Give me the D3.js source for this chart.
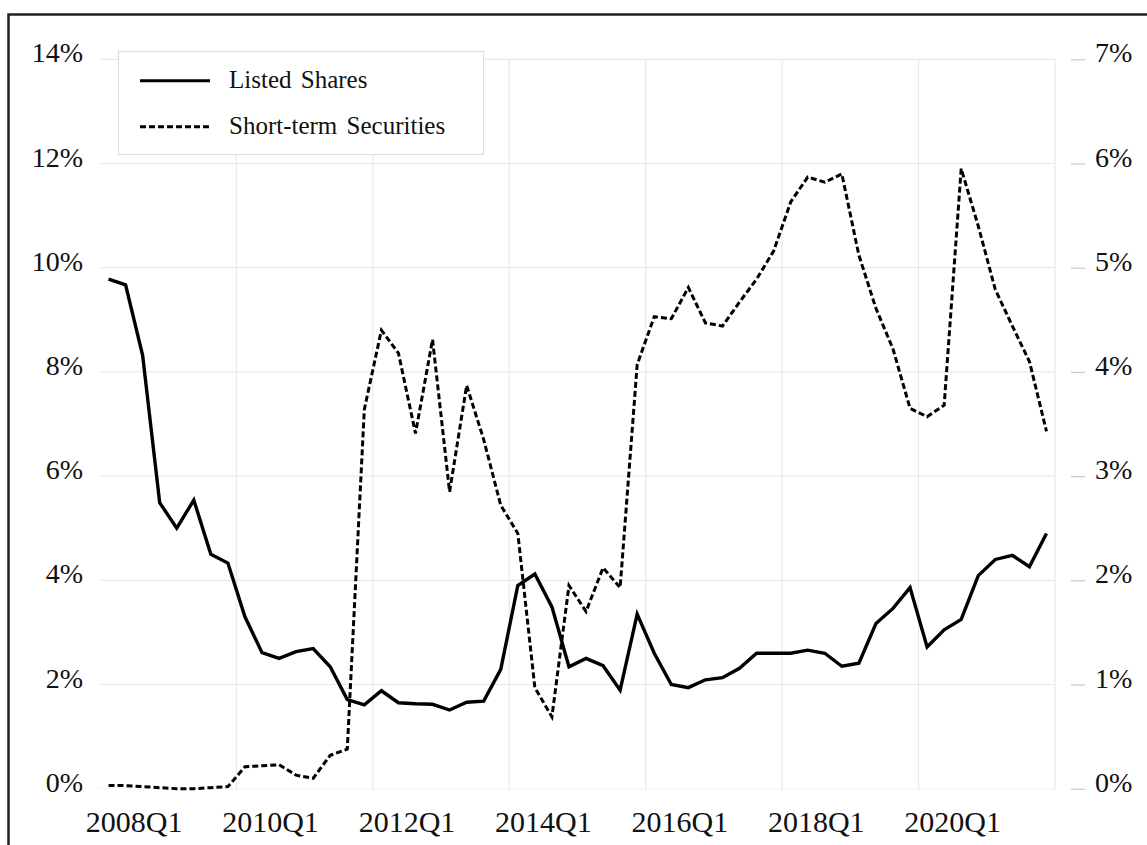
<!DOCTYPE html>
<html>
<head>
<meta charset="utf-8">
<script src="https://cdn.jsdelivr.net/npm/d3@7"></script>
<style>
  html, body { margin: 0; padding: 0; background: #fff; }
  svg { display: block; }
  text { font-family: "Liberation Serif", "Times New Roman", serif; fill: #111; }
</style>
</head>
<body>
<svg width="1147" height="845"></svg>
<script>
const quarters = [
    "2008Q1","2008Q2","2008Q3","2008Q4","2009Q1","2009Q2","2009Q3","2009Q4",
    "2010Q1","2010Q2","2010Q3","2010Q4","2011Q1","2011Q2","2011Q3","2011Q4",
    "2012Q1","2012Q2","2012Q3","2012Q4","2013Q1","2013Q2","2013Q3","2013Q4",
    "2014Q1","2014Q2","2014Q3","2014Q4","2015Q1","2015Q2","2015Q3","2015Q4",
    "2016Q1","2016Q2","2016Q3","2016Q4","2017Q1","2017Q2","2017Q3","2017Q4",
    "2018Q1","2018Q2","2018Q3","2018Q4","2019Q1","2019Q2","2019Q3","2019Q4",
    "2020Q1","2020Q2","2020Q3","2020Q4","2021Q1","2021Q2","2021Q3","2021Q4"
];

// left axis (%)
const listedShares = [9.78, 9.67, 8.32, 5.49, 5.00, 5.54, 4.50, 4.33, 3.30, 2.61, 2.50, 2.63, 2.69, 2.34,
    1.71, 1.61, 1.88, 1.65, 1.63, 1.62, 1.51, 1.66, 1.68, 2.29, 3.90, 4.12, 3.49, 2.34, 2.50, 2.36,
    1.89, 3.35, 2.60, 2.00, 1.94, 2.09, 2.13, 2.31, 2.60, 2.60, 2.60, 2.66, 2.60, 2.35, 2.41, 3.17,
    3.46, 3.86, 2.72, 3.05, 3.25, 4.09, 4.40, 4.48, 4.26, 4.90];

// right axis (%)
const shortTermSecurities = [0.03, 0.03, 0.02, 0.01, 0.00, 0.00, 0.01, 0.02, 0.21, 0.22, 0.23, 0.13, 0.10, 0.32,
    0.38, 3.64, 4.40, 4.18, 3.41, 4.31, 2.85, 3.87, 3.35, 2.72, 2.45, 0.97, 0.69, 1.95, 1.70, 2.12,
    1.93, 4.07, 4.53, 4.51, 4.81, 4.47, 4.44, 4.67, 4.89, 5.16, 5.63, 5.87, 5.82, 5.90, 5.12, 4.61,
    4.22, 3.65, 3.57, 3.68, 5.95, 5.40, 4.79, 4.44, 4.10, 3.43];

const xTickLabels = ["2008Q1", "2010Q1", "2012Q1", "2014Q1", "2016Q1", "2018Q1", "2020Q1"];
const leftTicks = [0, 2, 4, 6, 8, 10, 12, 14];
const rightTicks = [0, 1, 2, 3, 4, 5, 6, 7];
const seriesNames = ["Listed Shares", "Short-term Securities"];

const svg = d3.select("svg");
const plotLeft = 100, plotRight = 1055, plotTop = 59.3, plotBottom = 788.7;

const x = d3.scaleBand().domain(quarters).range([plotLeft, plotRight]);
const step = x.step();
const cx = q => x(q) + step / 2;
const yL = d3.scaleLinear().domain([0, 14]).range([plotBottom, plotTop]);
const yR = d3.scaleLinear().domain([0, 7]).range([plotBottom, plotTop]);

// frame
svg.append("rect")
    .attr("x", 8.5).attr("y", 14.5)
    .attr("width", 1300).attr("height", 1000)
    .attr("fill", "none")
    .attr("stroke", "#222")
    .attr("stroke-width", 2.5);

// gridlines
svg.append("g").selectAll("line")
    .data(leftTicks)
    .enter()
    .append("line")
    .attr("x1", plotLeft).attr("x2", plotRight)
    .attr("y1", d => yL(d)).attr("y2", d => yL(d))
    .attr("stroke", d => d === 0 ? "#f4f4f4" : "#e9e9e9")
    .attr("stroke-width", 1.2);

const vGrid = xTickLabels.slice(1).map(q => x(q)).concat([plotRight]);
svg.append("g").selectAll("line")
    .data(vGrid)
    .enter()
    .append("line")
    .attr("x1", d => d).attr("x2", d => d)
    .attr("y1", plotTop).attr("y2", plotBottom + 1.5)
    .attr("stroke", "#e9e9e9")
    .attr("stroke-width", 1.2);

// left axis
const axL = svg.append("g")
    .attr("transform", `translate(${plotLeft},0)`)
    .call(d3.axisLeft(yL).tickValues(leftTicks).tickFormat(d => d + "%").tickSize(0).tickPadding(17));
axL.select(".domain").remove();
axL.selectAll("text").attr("font-size", 28).attr("dy", 2.5).style("font-family", "Liberation Serif");

// right axis
const axR = svg.append("g")
    .attr("transform", "translate(1071,0)")
    .call(d3.axisRight(yR).tickValues(rightTicks).tickFormat(d => d + "%").tickSize(14).tickPadding(10));
axR.select(".domain").remove();
axR.selectAll("line").attr("stroke", "#c8c8c8").attr("stroke-width", 1.2);
axR.selectAll("text").attr("font-size", 28).attr("dy", 2.5).style("font-family", "Liberation Serif");

// x labels
svg.append("g").selectAll("text")
    .data(xTickLabels)
    .enter()
    .append("text")
    .attr("x", d => x(d) + 2 * step)
    .attr("y", 832)
    .attr("text-anchor", "middle")
    .attr("font-size", 30)
    .text(d => d);

// lines
const lineL = d3.line().x((d, i) => cx(quarters[i])).y(d => yL(d));
const lineR = d3.line().x((d, i) => cx(quarters[i])).y(d => yR(d));

svg.append("path")
    .datum(shortTermSecurities)
    .attr("d", lineR)
    .attr("fill", "none")
    .attr("stroke", "#000")
    .attr("stroke-width", 3)
    .attr("stroke-dasharray", "6,3")
    .attr("stroke-linejoin", "miter");

svg.append("path")
    .datum(listedShares)
    .attr("d", lineL)
    .attr("fill", "none")
    .attr("stroke", "#000")
    .attr("stroke-width", 3.4)
    .attr("stroke-linejoin", "miter");

// legend
const legend = svg.append("g");
legend.append("rect")
    .attr("x", 118.5).attr("y", 51.5)
    .attr("width", 365).attr("height", 103)
    .attr("fill", "#fff")
    .attr("stroke", "#dedede")
    .attr("stroke-width", 1.2);

const legendRows = legend.selectAll("g.row")
    .data(seriesNames)
    .enter()
    .append("g")
    .attr("class", "row")
    .attr("transform", (d, i) => `translate(0,${i * 46})`);

legendRows.append("line")
    .attr("x1", 140).attr("x2", 210)
    .attr("y1", 80.7).attr("y2", 80.7)
    .attr("stroke", "#000")
    .attr("stroke-width", 3)
    .attr("stroke-dasharray", (d, i) => i === 1 ? "6,3" : null);

legendRows.append("text")
    .attr("x", 229)
    .attr("y", 88)
    .attr("font-size", 25)
    .attr("word-spacing", 3)
    .text(d => d);
</script>
</body>
</html>
